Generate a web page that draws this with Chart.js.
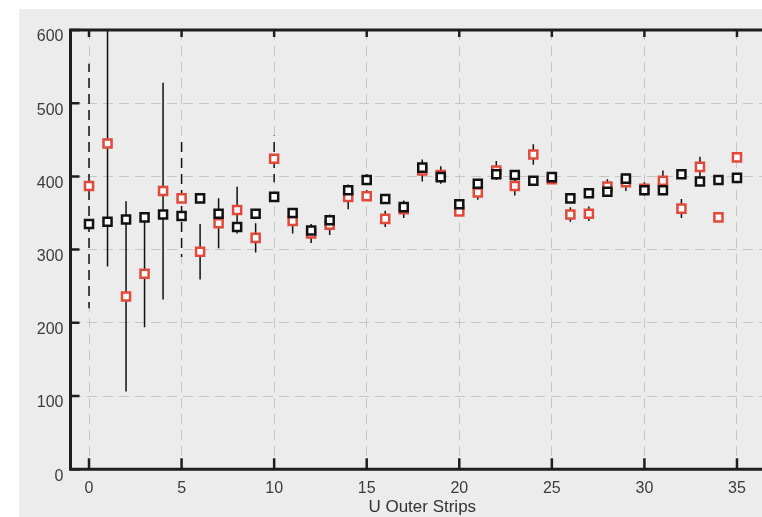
<!DOCTYPE html>
<html>
<head>
<meta charset="utf-8">
<script src="https://cdn.jsdelivr.net/npm/chart.js@4.4.1/dist/chart.umd.min.js"></script>
<style>
  html, body { margin: 0; padding: 0; background: #fff; overflow: hidden; }
  #wrap { width: 774px; height: 517px; }
</style>
</head>
<body>
<div id="wrap"><canvas id="stripChart" width="774" height="517"></canvas></div>
<script>
var strips = [0, 1, 2, 3, 4, 5, 6, 7, 8, 9, 10, 11, 12, 13, 14, 15, 16, 17,
              18, 19, 20, 21, 22, 23, 24, 25, 26, 27, 28, 29, 30, 31, 32, 33, 34, 35];
var blackVals = [335, 338, 341, 344, 348, 346, 370, 349, 331, 349, 372, 350, 326, 340, 381, 395, 369, 358,
                 412, 399, 362, 390, 403, 402, 394, 399, 370, 377, 379, 397, 381, 381, 403, 393, 395, 398];
var blackErr = [6, 6, 6, 6, 6, 6, 6, 6, 6, 6, 6, 6, 6, 6, 6, 10, 6, 6,
                6, 6, 6, 6, 6, 6, 6, 6, 6, 6, 6, 6, 6, 6, 6, 6, 6, 6];
var redVals = [387, 445, 236, 267, 380, 370, 297, 336, 354, 316, 424, 339, 322, 334, 372, 373, 342, 355,
               408, 402, 352, 378, 408, 387, 430, 396, 348, 349, 386, 392, 383, 394, 356, 413, 344, 426];
var redErr = [167, 168, 130, 73, 148, 80, 38, 34, 32, 20, 32, 17, 13, 14, 17, 10, 11, 12,
              15, 12, 12, 10, 13, 13, 14, 8, 10, 10, 10, 12, 9, 14, 13, 14, 5, 6];
var xTicks = [0, 5, 10, 15, 20, 25, 30, 35];
var yTicks = [0, 100, 200, 300, 400, 500, 600];

var gridDash = [10, 6];
var tickFont = { family: 'Liberation Sans, Arial, sans-serif', size: 16 };

function points(vals) {
  return strips.map(function(s, i) { return { x: s, y: vals[i] }; });
}

// grey panel behind everything
var panel = {
  id: 'panel',
  beforeDraw: function(chart) {
    var ctx = chart.ctx;
    ctx.save();
    ctx.fillStyle = '#fff';
    ctx.fillRect(0, 0, chart.width, chart.height);
    ctx.fillStyle = '#ececec';
    ctx.fillRect(19, 9, chart.width - 19, chart.height - 9);
    ctx.restore();
  }
};

// vertical error bars, under the markers
var errorBars = {
  id: 'errorBars',
  beforeDatasetsDraw: function(chart) {
    var ctx = chart.ctx, a = chart.chartArea;
    var xs = chart.scales.x, ys = chart.scales.y;
    ctx.save();
    ctx.beginPath();
    ctx.rect(a.left, a.top, a.right - a.left, a.bottom - a.top);
    ctx.clip();
    ctx.strokeStyle = '#111';
    ctx.lineWidth = 1.5;
    chart.data.datasets.forEach(function(ds) {
      ds.errors.forEach(function(e, i) {
        var px = xs.getPixelForValue(ds.data[i].x);
        var top = ys.getPixelForValue(ds.data[i].y + e);
        var bottom = ys.getPixelForValue(ds.data[i].y - e);
        // bars sitting on a grid column follow the grid's dash pattern
        var onGrid = xTicks.indexOf(ds.data[i].x) >= 0;
        ctx.setLineDash(onGrid ? gridDash : []);
        ctx.lineDashOffset = onGrid ? top - a.top : 0;
        ctx.beginPath();
        ctx.moveTo(px, top);
        ctx.lineTo(px, bottom);
        ctx.stroke();
      });
    });
    ctx.restore();
  }
};

// axis frame with inward tick marks
var frame = {
  id: 'frame',
  afterDatasetsDraw: function(chart) {
    var ctx = chart.ctx, a = chart.chartArea;
    var xs = chart.scales.x, ys = chart.scales.y;
    ctx.save();
    ctx.strokeStyle = '#1e1e1e';
    ctx.lineWidth = 2.5;
    ctx.beginPath();
    xTicks.forEach(function(v) {
      var p = xs.getPixelForValue(v);
      ctx.moveTo(p, a.bottom); ctx.lineTo(p, a.bottom - 11);
      ctx.moveTo(p, a.top); ctx.lineTo(p, a.top + 7);
    });
    yTicks.forEach(function(v) {
      var p = ys.getPixelForValue(v);
      ctx.moveTo(a.left, p); ctx.lineTo(a.left + 9, p);
    });
    ctx.stroke();
    ctx.lineWidth = 3;
    ctx.beginPath();
    ctx.moveTo(a.right, a.top);
    ctx.lineTo(a.left, a.top);
    ctx.lineTo(a.left, a.bottom);
    ctx.lineTo(a.right, a.bottom);
    ctx.stroke();
    ctx.restore();
  }
};

var ctx = document.getElementById('stripChart').getContext('2d');
new Chart(ctx, {
  type: 'scatter',
  data: {
    datasets: [
      {
        label: 'black',
        data: points(blackVals),
        errors: blackErr,
        pointStyle: 'rect',
        pointRadius: 5.7,
        pointBorderWidth: 2.5,
        pointBorderColor: '#111',
        pointBackgroundColor: '#fff'
      },
      {
        label: 'red',
        data: points(redVals),
        errors: redErr,
        pointStyle: 'rect',
        pointRadius: 5.7,
        pointBorderWidth: 2.5,
        pointBorderColor: '#e2493b',
        pointBackgroundColor: '#fff'
      }
    ]
  },
  options: {
    responsive: false,
    animation: false,
    devicePixelRatio: 1,
    layout: { autoPadding: false, padding: { left: 0, top: 30, right: 0, bottom: 0 } },
    plugins: {
      legend: { display: false },
      tooltip: { enabled: false }
    },
    scales: {
      x: {
        type: 'linear',
        min: -1,
        max: 37,
        afterBuildTicks: function(s) { s.ticks = xTicks.map(function(v) { return { value: v }; }); },
        afterFit: function(s) { s.height = 517 - 469.2; },
        grid: { color: '#c6c6c6', lineWidth: 1, drawTicks: false },
        border: { display: false, dash: gridDash },
        ticks: { padding: 10, font: tickFont, color: '#3c3c3c', maxRotation: 0 },
        title: {
          display: true,
          text: 'U Outer Strips',
          font: { family: 'Liberation Sans, Arial, sans-serif', size: 17 },
          color: '#333',
          padding: { top: 0, bottom: -1 }
        }
      },
      y: {
        min: 0,
        max: 600,
        afterBuildTicks: function(s) { s.ticks = yTicks.map(function(v) { return { value: v }; }); },
        afterFit: function(s) { s.width = 70.5; },
        grid: { color: '#c6c6c6', lineWidth: 1, drawTicks: false },
        border: { display: false, dash: gridDash },
        ticks: { padding: 7, labelOffset: 7, font: tickFont, color: '#3c3c3c' }
      }
    }
  },
  plugins: [panel, errorBars, frame]
});
</script>
</body>
</html>
